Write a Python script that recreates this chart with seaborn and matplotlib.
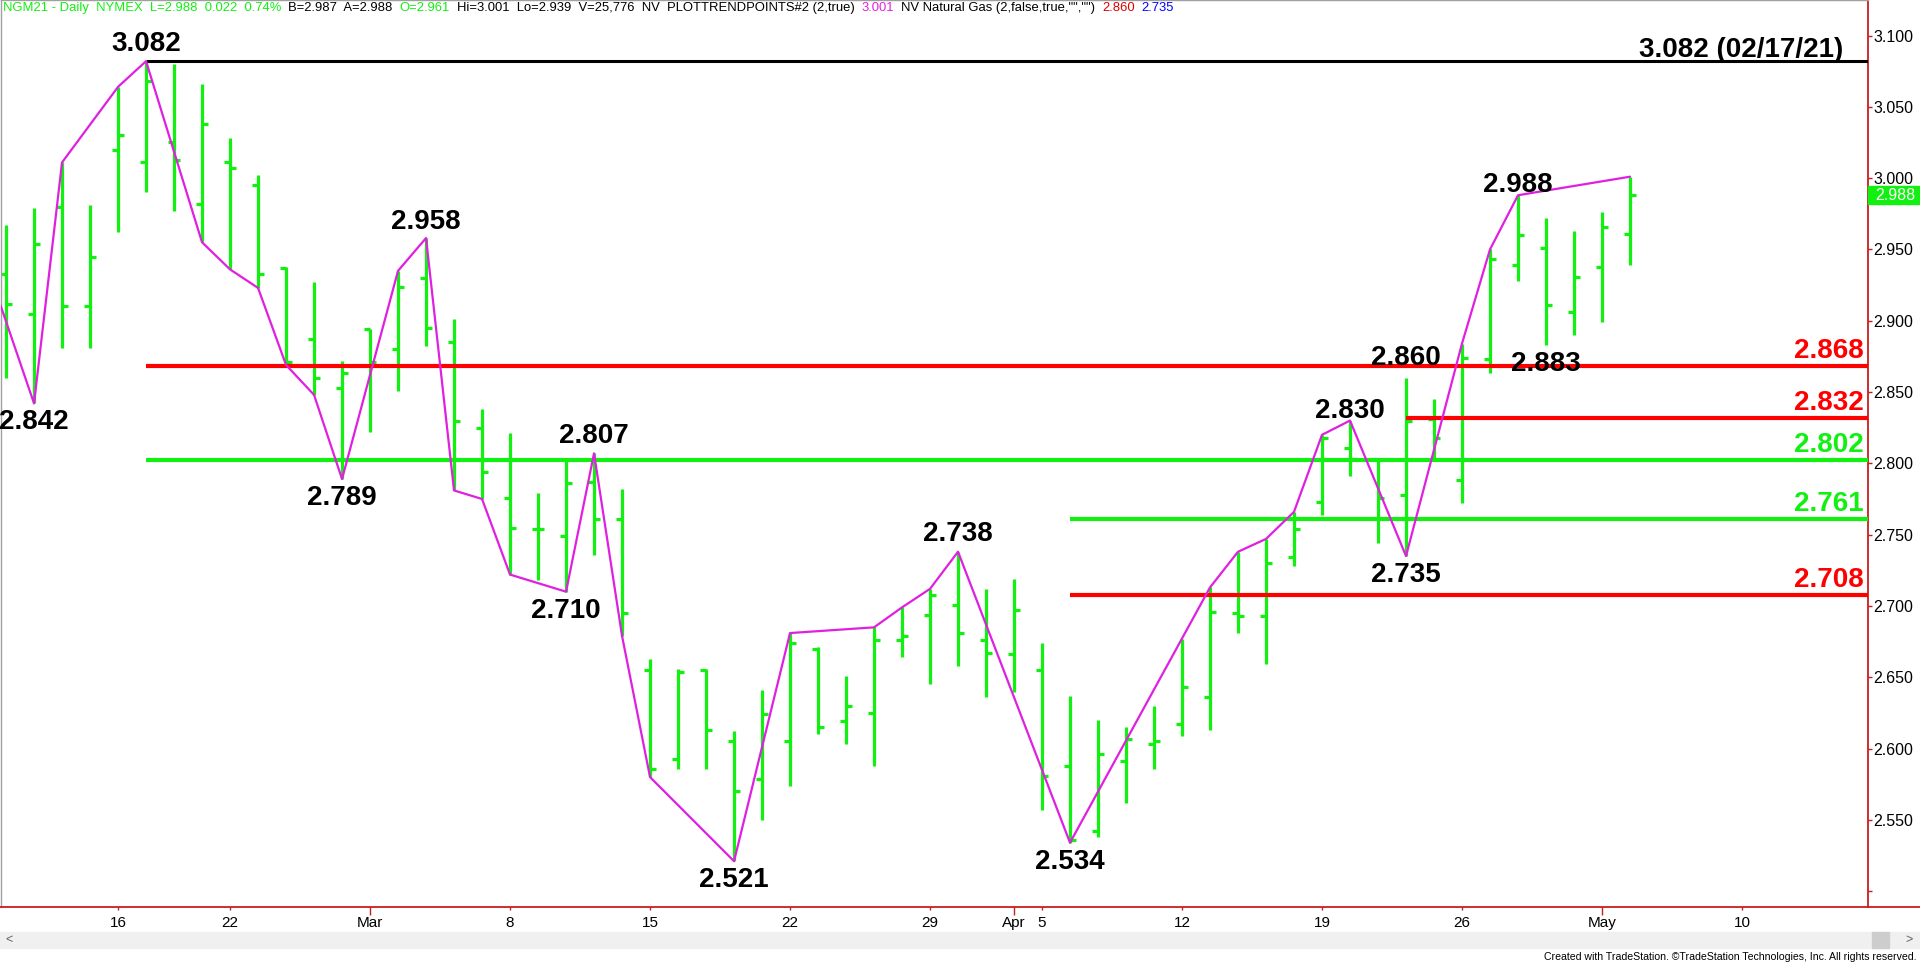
import matplotlib
matplotlib.use("Agg")
import matplotlib.pyplot as plt
import matplotlib.transforms as mtransforms
from matplotlib.offsetbox import TextArea, HPacker, AnchoredOffsetbox
from matplotlib.patches import Rectangle
from matplotlib.lines import Line2D
import seaborn as sns
import pandas as pd

# ---------------- data ----------------
dates = ["2021-02-09", "2021-02-10", "2021-02-11", "2021-02-12", "2021-02-16", "2021-02-17",
         "2021-02-18", "2021-02-19", "2021-02-22", "2021-02-23", "2021-02-24", "2021-02-25",
         "2021-02-26", "2021-03-01", "2021-03-02", "2021-03-03", "2021-03-04", "2021-03-05",
         "2021-03-08", "2021-03-09", "2021-03-10", "2021-03-11", "2021-03-12", "2021-03-15",
         "2021-03-16", "2021-03-17", "2021-03-18", "2021-03-19", "2021-03-22", "2021-03-23",
         "2021-03-24", "2021-03-25", "2021-03-26", "2021-03-29", "2021-03-30", "2021-03-31",
         "2021-04-01", "2021-04-05", "2021-04-06", "2021-04-07", "2021-04-08", "2021-04-09",
         "2021-04-12", "2021-04-13", "2021-04-14", "2021-04-15", "2021-04-16", "2021-04-19",
         "2021-04-20", "2021-04-21", "2021-04-22", "2021-04-23", "2021-04-26", "2021-04-27",
         "2021-04-28", "2021-04-29", "2021-04-30", "2021-05-03", "2021-05-04"]
opens = [2.933, 2.905, 2.980, 2.910, 3.020, 3.011, 3.025, 2.982, 3.011, 2.995, 2.937, 2.887,
         2.853, 2.894, 2.880, 2.930, 2.885, 2.825, 2.776, 2.754, 2.749, 2.787, 2.761, 2.655,
         2.593, 2.655, 2.605, 2.579, 2.605, 2.670, 2.619, 2.625, 2.676, 2.694, 2.701, 2.676,
         2.666, 2.655, 2.588, 2.542, 2.591, 2.603, 2.617, 2.636, 2.695, 2.693, 2.734, 2.773,
         2.811, 2.803, 2.778, 2.831, 2.788, 2.873, 2.939, 2.951, 2.906, 2.938, 2.961]
highs = [2.967, 2.979, 3.011, 2.981, 3.064, 3.082, 3.080, 3.066, 3.028, 3.002, 2.938, 2.927,
         2.872, 2.894, 2.935, 2.958, 2.901, 2.838, 2.821, 2.779, 2.802, 2.807, 2.782, 2.663,
         2.656, 2.656, 2.612, 2.641, 2.681, 2.671, 2.651, 2.685, 2.699, 2.712, 2.738, 2.712,
         2.719, 2.674, 2.637, 2.620, 2.615, 2.630, 2.677, 2.713, 2.738, 2.747, 2.766, 2.820,
         2.830, 2.803, 2.860, 2.845, 2.884, 2.950, 2.988, 2.972, 2.963, 2.976, 3.001]
lows = [2.860, 2.842, 2.881, 2.881, 2.962, 2.990, 2.977, 2.955, 2.936, 2.923, 2.869, 2.848,
        2.789, 2.822, 2.851, 2.882, 2.781, 2.775, 2.722, 2.718, 2.710, 2.736, 2.679, 2.580,
        2.586, 2.586, 2.521, 2.550, 2.574, 2.610, 2.603, 2.588, 2.664, 2.645, 2.658, 2.636,
        2.640, 2.557, 2.534, 2.538, 2.562, 2.586, 2.609, 2.613, 2.681, 2.659, 2.728, 2.764,
        2.791, 2.744, 2.735, 2.803, 2.772, 2.863, 2.928, 2.883, 2.890, 2.899, 2.939]
closes = [2.912, 2.954, 2.910, 2.945, 3.030, 3.068, 3.013, 3.038, 3.007, 2.933, 2.871, 2.860,
          2.863, 2.871, 2.924, 2.895, 2.830, 2.794, 2.755, 2.754, 2.786, 2.761, 2.695, 2.586,
          2.654, 2.613, 2.570, 2.624, 2.674, 2.615, 2.630, 2.676, 2.679, 2.708, 2.681, 2.667,
          2.697, 2.581, 2.536, 2.596, 2.607, 2.605, 2.643, 2.696, 2.693, 2.730, 2.754, 2.818,
          2.803, 2.776, 2.830, 2.818, 2.874, 2.943, 2.960, 2.911, 2.931, 2.966, 2.988]

prior_dates = ["2021-02-08"]
future_dates = ["2021-05-05", "2021-05-06", "2021-05-07", "2021-05-10", "2021-05-11",
                "2021-05-12", "2021-05-13", "2021-05-14"]

trend_dates = ["2021-02-08", "2021-02-10", "2021-02-11", "2021-02-16", "2021-02-17", "2021-02-19",
               "2021-02-22", "2021-02-23", "2021-02-24", "2021-02-25", "2021-02-26", "2021-03-02",
               "2021-03-03", "2021-03-04", "2021-03-05", "2021-03-08", "2021-03-10", "2021-03-11",
               "2021-03-12", "2021-03-15", "2021-03-18", "2021-03-22", "2021-03-25", "2021-03-26",
               "2021-03-29", "2021-03-30", "2021-04-06", "2021-04-13", "2021-04-14", "2021-04-15",
               "2021-04-16", "2021-04-19", "2021-04-20", "2021-04-22", "2021-04-26", "2021-04-27",
               "2021-04-28", "2021-05-04"]
trend_values = [2.957, 2.842, 3.011, 3.064, 3.082, 2.955, 2.936, 2.923, 2.869, 2.848, 2.789, 2.935,
                2.958, 2.781, 2.775, 2.722, 2.710, 2.807, 2.679, 2.580, 2.521, 2.681, 2.685, 2.699,
                2.712, 2.738, 2.534, 2.713, 2.738, 2.747, 2.766, 2.820, 2.830, 2.735, 2.884, 2.950,
                2.988, 3.001]

level_values = [3.082, 2.868, 2.802, 2.832, 2.761, 2.708]
level_start = ["2021-02-17", "2021-02-17", "2021-02-17", "2021-04-22", "2021-04-06", "2021-04-06"]
level_labels = ["3.082 (02/17/21)", "2.868", "2.802", "2.832", "2.761", "2.708"]

pivot_dates = ["2021-02-17", "2021-03-03", "2021-03-11", "2021-03-30", "2021-04-20", "2021-04-22",
               "2021-04-28", "2021-02-10", "2021-02-26", "2021-03-10", "2021-03-18", "2021-04-06",
               "2021-04-22", "2021-04-29"]
pivot_values = [3.082, 2.958, 2.807, 2.738, 2.830, 2.860, 2.988,
                2.842, 2.789, 2.710, 2.521, 2.534, 2.735, 2.883]
pivot_kinds = ["H", "H", "H", "H", "H", "H", "H", "L", "L", "L", "L", "L", "L", "L"]

xtick_dates = ["2021-02-16", "2021-02-22", "2021-03-01", "2021-03-08", "2021-03-15", "2021-03-22",
               "2021-03-29", "2021-04-01", "2021-04-05", "2021-04-12", "2021-04-19", "2021-04-26",
               "2021-05-03", "2021-05-10"]
xtick_labels = ["16", "22", "Mar", "8", "15", "22", "29", "Apr", "5", "12", "19", "26", "May", "10"]
ytick_values = [2.50, 2.55, 2.60, 2.65, 2.70, 2.75, 2.80, 2.85, 2.90, 2.95, 3.00, 3.05, 3.10]

bid, ask, volume = 2.987, 2.988, "25,776"

# ---------------- style ----------------
sns.set_theme(style="white")
plt.rcParams["font.family"] = ["Liberation Sans", "DejaVu Sans"]

GREEN = "#12f012"
RED = "#ff0000"
AXRED = "#c81e1e"
MAG = "#e020e0"
BLUE = "#0000ff"
W, H = 1920, 963

calendar = prior_dates + dates + future_dates
pos = {d: i - 1 for i, d in enumerate(calendar)}

df = pd.DataFrame({"date": dates, "open": opens, "high": highs, "low": lows, "close": closes})
df["x"] = df["date"].map(pos)
trend = pd.DataFrame({"x": [pos[d] for d in trend_dates], "price": trend_values})

fig = plt.figure(figsize=(W / 100, H / 100), dpi=100)
fig.patch.set_facecolor("white")
ax_bottom_px = 907
ax = fig.add_axes([1 / W, 1 - ax_bottom_px / H, 1867 / W, ax_bottom_px / H])
ax.set_facecolor("white")
XMIN, XMAX = -0.18, 66.5
ax.set_xlim(XMIN, XMAX)
ax.set_ylim(2.4889, 3.1249)

# OHLC bars
ax.vlines(df["x"], df["low"], df["high"], color=GREEN, lw=2.3, zorder=2)
ax.hlines(df["open"], df["x"] - 0.21, df["x"], color=GREEN, lw=2.3, zorder=2)
ax.hlines(df["close"], df["x"], df["x"] + 0.21, color=GREEN, lw=2.3, zorder=2)

# level lines
level_colors = ["black", RED, GREEN, RED, GREEN, RED]
level_lw = [2.2, 3.0, 3.0, 3.0, 3.0, 3.0]
for v, s, c, lw in zip(level_values, level_start, level_colors, level_lw):
    ax.hlines(v, pos[s], XMAX, color=c, lw=lw, zorder=3)

# trend line
sns.lineplot(data=trend, x="x", y="price", ax=ax, color=MAG, lw=1.6, sort=False,
             estimator=None, zorder=4, legend=False)

# level labels at right
for v, lab, c in zip(level_values, level_labels, level_colors):
    dx = -25 if c == "black" else -4
    dy = 4 if c == "black" else 8
    ax.annotate(lab, xy=(1.0, v), xycoords=("axes fraction", "data"),
                xytext=(dx * 0.72, dy * 0.72), textcoords="offset points",
                ha="right", va="baseline", fontsize=20, fontweight="bold", color=c, zorder=6)

# pivot labels
hi_gap = {"3.082": 10, "2.958": 9, "2.807": 10, "2.738": 11, "2.830": 3, "2.860": 13, "2.988": 3}
for d, v, k in zip(pivot_dates, pivot_values, pivot_kinds):
    lab = f"{v:.3f}"
    if k == "H":
        off = hi_gap.get(lab, 8)
    else:
        off = -(6 + 20)
    ax.annotate(lab, xy=(pos[d], v), xytext=(0, off * 0.72), textcoords="offset points",
                ha="center", va="baseline", fontsize=20, fontweight="bold", color="black", zorder=6)

# axes styling
for side in ["top", "left"]:
    ax.spines[side].set_color("#a0a0a0")
    ax.spines[side].set_linewidth(1.0)
ax.spines["right"].set_color(AXRED)
ax.spines["right"].set_linewidth(1.3)
ax.spines["bottom"].set_visible(False)
fig.add_artist(Line2D([0, 1], [1 - ax_bottom_px / H] * 2, color=AXRED, lw=1.3,
                      transform=fig.transFigure))

ax.yaxis.tick_right()
ax.set_yticks(ytick_values)
ax.set_yticklabels(["" if abs(v - 2.5) < 1e-9 else f"{v:.3f}" for v in ytick_values])
ax.tick_params(axis="y", which="major", direction="out", length=3, width=1, color=AXRED,
               labelsize=11.5, pad=1, labelcolor="black", right=True, left=False)

month_labels = {"Mar", "Apr", "May"}
maj = [(pos[d], l) for d, l in zip(xtick_dates, xtick_labels) if l in month_labels]
mnr = [(pos[d], l) for d, l in zip(xtick_dates, xtick_labels) if l not in month_labels]
ax.set_xticks([p for p, _ in maj])
ax.set_xticklabels([l for _, l in maj])
ax.set_xticks([p for p, _ in mnr], minor=True)
ax.set_xticklabels([l for _, l in mnr], minor=True)
ax.tick_params(axis="x", which="major", direction="out", length=5.5, width=1, color=AXRED,
               labelsize=11, pad=1.2, labelcolor="black", bottom=True)
ax.tick_params(axis="x", which="minor", direction="out", length=2, width=1, color=AXRED,
               labelsize=11, pad=4.7, labelcolor="black", bottom=True)
ax.set_xlabel("")
ax.set_ylabel("")
ax.grid(False)

# current price box
blend = mtransforms.blended_transform_factory(ax.transAxes, ax.transData)
last = closes[-1]
half = 9 / 1426
ax.add_patch(Rectangle((1.0, last - half), 53 / 1867, 2 * half, transform=blend,
                       color=GREEN, clip_on=False, zorder=7))
ax.text(1.0 + 27 / 1867, last, f"{last:.3f}", transform=blend, ha="center", va="center",
        color="white", fontsize=11.5, zorder=8, clip_on=False)

# header
chg = closes[-1] - closes[-2]
pct = chg / closes[-2] * 100
swing_hi = pivot_values[pivot_dates.index("2021-04-22")]
swing_lo = pivot_values[len(pivot_dates) - 2]
parts = [
    (f"NGM21 - Daily  NYMEX  L={closes[-1]:.3f}  {chg:.3f}  {pct:.2f}%", GREEN),
    (f"B={bid:.3f}  A={ask:.3f}", "black"),
    (f"O={opens[-1]:.3f}", GREEN),
    (f"Hi={highs[-1]:.3f}  Lo={lows[-1]:.3f}  V={volume}  NV  PLOTTRENDPOINTS#2 (2,true)", "black"),
    (f"{trend_values[-1]:.3f}", MAG),
    ('NV Natural Gas (2,false,true,"","")', "black"),
    (f"{swing_hi:.3f}", "#e00000"),
    (f"{swing_lo:.3f}", BLUE),
]
boxes = [TextArea(t, textprops=dict(color=c, fontsize=9.4)) for t, c in parts]
pack = HPacker(children=boxes, sep=5, pad=0, align="baseline")
anch = AnchoredOffsetbox(loc="upper left", child=pack, pad=0, borderpad=0, frameon=False,
                         bbox_to_anchor=(3 / W, 1 - 2 / H), bbox_transform=fig.transFigure)
fig.add_artist(anch)

# scrollbar + footer
fig.add_artist(Rectangle((0, 1 - 948 / H), 1, 16 / H, transform=fig.transFigure,
                         color="#f0f0f0", zorder=1))
fig.add_artist(Rectangle((1872 / W, 1 - 948 / H), 17 / W, 16 / H, transform=fig.transFigure,
                         color="#cdcdcd", zorder=2))
fig.text(9 / W, 1 - 940 / H, "<", ha="center", va="center", fontsize=9, color="#606060")
fig.text(1909 / W, 1 - 940 / H, ">", ha="center", va="center", fontsize=9, color="#606060")
fig.text(1916 / W, 1 - 957 / H,
         "Created with TradeStation. \u00a9TradeStation Technologies, Inc. All rights reserved.",
         ha="right", va="center", fontsize=7.6, color="black")

fig.savefig("out.png", dpi=100, facecolor="white")
